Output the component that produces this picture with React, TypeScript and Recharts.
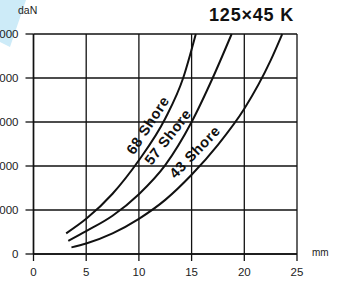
import React from "react";
import {
  CartesianGrid,
  Line,
  LineChart,
  ReferenceDot,
  XAxis,
  YAxis
} from "recharts";

// travel (mm) vs load (daN)
const shore68 = [
  { x: 3.1, y: 470 },
  { x: 5, y: 800 },
  { x: 7.5, y: 1370 },
  { x: 10, y: 2130 },
  { x: 12.5, y: 3080 },
  { x: 14.2, y: 4000 },
  { x: 15.4, y: 5000 }
];
const shore57 = [
  { x: 3.3, y: 300 },
  { x: 5, y: 520 },
  { x: 7.5, y: 870 },
  { x: 10, y: 1360 },
  { x: 12.5, y: 2020 },
  { x: 15, y: 3000 },
  { x: 17, y: 4000 },
  { x: 18.8, y: 5000 }
];
const shore43 = [
  { x: 3.6, y: 150 },
  { x: 5, y: 240 },
  { x: 7.5, y: 470 },
  { x: 10, y: 800 },
  { x: 12.5, y: 1230 },
  { x: 15, y: 1800 },
  { x: 17.5, y: 2480 },
  { x: 20, y: 3300 },
  { x: 22.5, y: 4400 },
  { x: 23.6, y: 5000 }
];

const xTicks = [0, 5, 10, 15, 20, 25];
const yTicks = [0, 1000, 2000, 3000, 4000, 5000];

const curveLabels = ["68 Shore", "57 Shore", "43 Shore"];
const labelX = [10.85, 12.75, 15.3];
const labelY = [2930, 2660, 2320];
const labelAngle = [-57, -52, -46];

const font = "'Liberation Sans', Arial, sans-serif";

export default function App() {
  return (
    <div style={{ position: "fixed", left: 0, top: 0, width: 339, height: 282, background: "#fff", fontFamily: font }}>
      <svg width={339} height={282} style={{ position: "absolute", left: 0, top: 0 }}>
        <polygon points="0,0 26,0 10,47 0,42" fill="#cdebf8" />
      </svg>
      <div style={{ position: "absolute", left: 0, top: 0 }}>
        <LineChart width={339} height={282} margin={{ top: 34, right: 42, left: 0, bottom: 0 }}>
          <CartesianGrid stroke="#111" strokeWidth={1.3} />
          <XAxis
            type="number"
            dataKey="x"
            domain={[0, 25]}
            ticks={xTicks}
            height={28}
            tickSize={7}
            tickMargin={7}
            axisLine={{ stroke: "#111", strokeWidth: 1.5 }}
            tickLine={{ stroke: "#111", strokeWidth: 1.3 }}
            tick={{ fontSize: 11.5, fill: "#222", fontFamily: font }}
            allowDuplicatedCategory={false}
          />
          <YAxis
            type="number"
            dataKey="y"
            domain={[0, 5000]}
            ticks={yTicks}
            width={33.5}
            tickSize={8}
            tickMargin={7}
            axisLine={{ stroke: "#111", strokeWidth: 1.5 }}
            tickLine={{ stroke: "#111", strokeWidth: 1.3 }}
            tick={{ fontSize: 11.5, fill: "#222", fontFamily: font }}
          />
          <Line data={shore68} dataKey="y" type="monotone" stroke="#111" strokeWidth={2} dot={false} isAnimationActive={false} />
          <Line data={shore57} dataKey="y" type="monotone" stroke="#111" strokeWidth={2} dot={false} isAnimationActive={false} />
          <Line data={shore43} dataKey="y" type="monotone" stroke="#111" strokeWidth={2} dot={false} isAnimationActive={false} />
          {curveLabels.map((name, i) => (
            <ReferenceDot
              key={name}
              x={labelX[i]}
              y={labelY[i]}
              r={1}
              shape={(p: any) => (
                <text
                  x={p.cx}
                  y={p.cy}
                  textAnchor="middle"
                  dominantBaseline="central"
                  fontSize={14.5}
                  fontWeight="bold"
                  letterSpacing={0.6}
                  fontFamily={font}
                  fill="#111"
                  transform={`rotate(${labelAngle[i]} ${p.cx} ${p.cy})`}
                >
                  {name}
                </text>
              )}
            />
          ))}
        </LineChart>
      </div>
      <div style={{ position: "absolute", left: 18, top: 4, fontSize: 10.5, color: "#222" }}>daN</div>
      <div style={{ position: "absolute", left: 312, top: 247, fontSize: 10, color: "#222" }}>mm</div>
      <div style={{ position: "absolute", right: 45, top: 5, fontSize: 18, fontWeight: "bold", letterSpacing: 0.8, color: "#111" }}>
        125×45 K
      </div>
    </div>
  );
}
